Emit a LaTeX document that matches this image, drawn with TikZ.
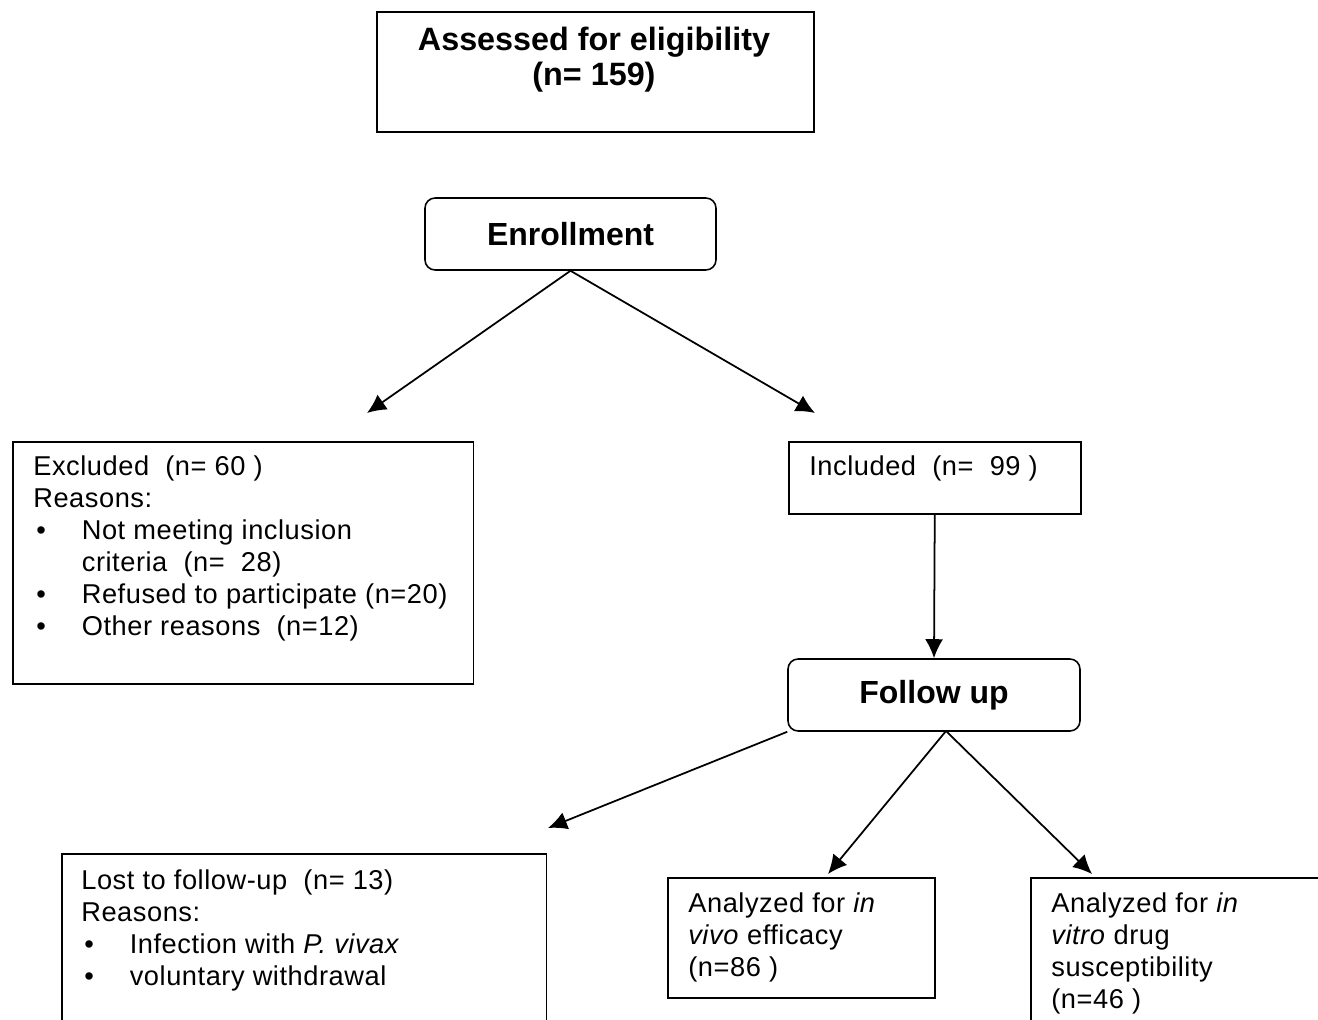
\documentclass[tikz,border=0pt]{standalone}
\usepackage{fontspec}
\setmainfont{Liberation Sans}
\newfontfamily\bodyfont[LetterSpace=2]{Liberation Sans}
\usetikzlibrary{arrows.meta}

\newcommand{\itm}{\makebox[0.97cm][l]{\hspace{0.06cm}\textbullet}}
\newcommand{\ind}{\hspace*{0.97cm}}

\tikzset{
  box/.style={draw, line width=0.9pt, rectangle, inner sep=0pt, anchor=north west},
  rbox/.style={draw, line width=0.9pt, rectangle, rounded corners=2mm, inner sep=0pt,
    font=\bfseries\fontsize{18.2}{20}\selectfont},
  txt/.style={anchor=north west, inner sep=0pt, align=left, font=\bodyfont\fontsize{15.5}{18.3}\selectfont},
  arr/.style={-{Latex[length=3.8mm,width=3.6mm]}, line width=1pt}
}

\begin{document}
\begin{tikzpicture}[x=0.02cm, y=-0.02cm]
		\useasboundingbox (0,0) rectangle (1318,1020);
		\clip (0,0) rectangle (1318,1020);
		% boxes
		\node[box, minimum width=8.74cm, minimum height=2.4cm] (assess) at (376,11) {};
		\node[anchor=north, inner sep=0pt, align=center, font=\bfseries\fontsize{18.4}{19.8}\selectfont] (assesstext) at (594,27) {Assessed for eligibility\\(n= 159)};
		\node[rbox, minimum width=5.82cm, minimum height=1.44cm] (enrol) at (570.5,234) {Enrollment};
		\node[box, minimum width=9.22cm, minimum height=4.84cm] (excl) at (12,441) {};
		\node[txt] (excltext) at (33,455) {Excluded~ (n= 60 )\\Reasons:\\
			\itm Not meeting inclusion\\\ind criteria~ (n=~ 28)\\
			\itm Refused to participate (n=20)\\
			\itm Other reasons~ (n=12)};
		\node[box, minimum width=5.84cm, minimum height=1.44cm] (incl) at (788,441) {};
		\node[txt] (incltext) at (809,455) {Included~ (n=~ 99 )};
		\node[rbox, minimum width=5.84cm, minimum height=1.44cm] (fup) at (934,695) {Follow up};
		\node[box, minimum width=9.7cm, minimum height=4cm] (lost) at (61,853) {};
		\node[txt] (losttext) at (81,869) {Lost to follow-up~ (n= 13)\\Reasons:\\
			\itm Infection with \textit{P. vivax}\\
			\itm voluntary withdrawal};
		\node[box, minimum width=5.34cm, minimum height=2.4cm] (vivo) at (667,877) {};
		\node[txt] (vivotext) at (688,892) {Analyzed for \textit{in}\\\textit{vivo} efficacy\\(n=86 )};
		\node[box, minimum width=6.4cm, minimum height=4cm] (vitro) at (1030,877) {};
		\node[txt] (vitrotext) at (1051,892) {Analyzed for \textit{in}\\\textit{vitro} drug\\susceptibility\\(n=46 )};
		% arrow ends
		\coordinate (exclin) at (367,413);
		\coordinate (inclin) at (815,413);
		\coordinate (lostin) at (548,828);
		\coordinate (vivoin) at (828,874);
		\coordinate (vitroin) at (1092,874);
		\coordinate (fupout) at (946,731);
		% arrows
		\draw[arr] (enrol.south) -- (exclin);
		\draw[arr] (enrol.south) -- (inclin);
		\draw[arr] (incl.south) -- (fup.north);
		\draw[arr] (fup.south west) -- (lostin);
		\draw[arr] (fupout) -- (vivoin);
		\draw[arr] (fupout) -- (vitroin);
\end{tikzpicture}
\end{document}
